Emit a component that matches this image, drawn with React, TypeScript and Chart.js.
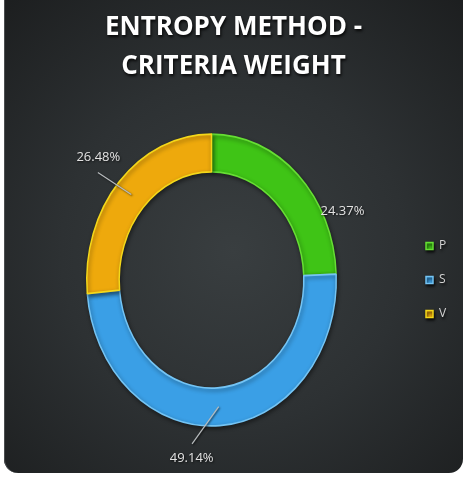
import React, { useEffect, useRef } from 'react';
import { Chart, registerables } from 'chart.js';

Chart.register(...registerables);

// ---- data ----
const categories = ['P', 'S', 'V'];
const weights = [24.37, 49.14, 26.48];
const valueLabels = ['24.37%', '49.14%', '26.48%'];
const titleLines = ['ENTROPY METHOD -', 'CRITERIA WEIGHT'];

// ---- styling ----
const COLORS = ['#3fc416', '#3a9fe6', '#eea90c'];
const RIMS = ['#66de34', '#74c4f4', '#f4d81a'];
const Y_STRETCH = 1.17;
const LABEL_PLACE = [
  { labelDeg: 22, labelR: 1.15, line: false, lineDeg: 0, lineR: 0 },
  { labelDeg: 11.2, labelR: 1.235, line: true, lineDeg: 11.7, lineR: 1.133 },
  { labelDeg: 0.4, labelR: 1.235, line: true, lineDeg: -3.4, lineR: 1.171 },
];

const stylePlugin = {
  id: 'stylePlugin',
  beforeDraw(chart: any) {
    const ctx = chart.ctx;
    ctx.save();
    ctx.shadowColor = 'rgba(0,0,0,0.85)';
    ctx.shadowBlur = 3;
    ctx.shadowOffsetX = 1;
    ctx.shadowOffsetY = 2;
  },
  beforeDatasetsDraw(chart: any) {
    const ctx = chart.ctx;
    ctx.restore();
    const arc = chart.getDatasetMeta(0).data[0];
    if (!arc) return;
    const { x, y } = arc;
    ctx.save();
    ctx.translate(x, y);
    ctx.scale(1, Y_STRETCH);
    ctx.translate(-x, -y);
    ctx.shadowColor = 'rgba(0,0,0,0.45)';
    ctx.shadowBlur = 4;
    ctx.shadowOffsetX = 1;
    ctx.shadowOffsetY = 2;
  },
  afterDatasetsDraw(chart: any) {
    const ctx = chart.ctx;
    ctx.restore();
    const meta = chart.getDatasetMeta(0);
    ctx.save();
    meta.data.forEach((el: any, i: number) => {
      const { x, y, startAngle, endAngle, innerRadius, outerRadius } = el.getProps(
        ['x', 'y', 'startAngle', 'endAngle', 'innerRadius', 'outerRadius'],
        true
      );
      const mid = (startAngle + endAngle) / 2;
      const p = LABEL_PLACE[i];
      const pt = (ang: number, r: number) => ({
        x: x + Math.cos(ang) * r,
        y: y + Math.sin(ang) * r * Y_STRETCH,
      });
      if (p.line) {
        const a = pt(mid, (innerRadius + outerRadius) / 2);
        const b = pt(mid + (p.lineDeg * Math.PI) / 180, outerRadius * p.lineR);
        ctx.strokeStyle = '#b8bcbe';
        ctx.lineWidth = 1.2;
        ctx.beginPath();
        ctx.moveTo(a.x, a.y);
        ctx.lineTo(b.x, b.y);
        ctx.stroke();
      }
      const l = pt(mid + (p.labelDeg * Math.PI) / 180, outerRadius * p.labelR);
      ctx.font = '13px "Open Sans"';
      ctx.fillStyle = '#e2e2e2';
      ctx.textAlign = 'center';
      ctx.textBaseline = 'middle';
      ctx.shadowColor = 'rgba(0,0,0,0.7)';
      ctx.shadowBlur = 2;
      ctx.shadowOffsetX = 1;
      ctx.shadowOffsetY = 1;
      ctx.fillText(valueLabels[i], l.x, l.y);
    });
    ctx.restore();
  },
};

export default function App() {
  const ref = useRef<HTMLCanvasElement | null>(null);

  useEffect(() => {
    if (!ref.current) return;
    const chart = new Chart(ref.current, {
      type: 'doughnut',
      data: {
        labels: categories,
        datasets: [
          {
            data: weights,
            backgroundColor: COLORS,
            borderColor: RIMS,
            borderWidth: 1.5,
          },
        ],
      },
      options: {
        responsive: false,
        animation: false,
        cutout: '74%',
        layout: { padding: { left: 15, right: 15, top: 0, bottom: 67.5 } },
        plugins: {
          title: {
            display: true,
            text: titleLines,
            color: '#ffffff',
            font: { family: '"Open Sans"', size: 26, weight: 'bold', lineHeight: 1.5 },
            padding: { top: 8.5, bottom: 68 },
          },
          legend: {
            display: true,
            position: 'right',
            fullSize: false,
            maxWidth: 44,
            labels: {
              boxWidth: 7,
              boxHeight: 7,
              padding: 22,
              color: '#d4d4d4',
              font: { family: '"Open Sans"', size: 12 },
            },
          },
          tooltip: { enabled: false },
        },
      },
      plugins: [stylePlugin],
    });
    return () => chart.destroy();
  }, []);

  return (
    <div style={{ position: 'fixed', left: 0, top: 0, width: 474, height: 495, background: '#ffffff', overflow: 'hidden' }}>
      <div
        style={{
          position: 'absolute',
          left: 4,
          top: -20,
          width: 459,
          height: 493,
          borderRadius: 14,
          background: 'radial-gradient(ellipse 75% 70% at 50% 55%, #393e40 0%, #2d3133 50%, #1c1e1f 100%)',
          boxShadow: 'inset 1px 0 0 #4a4d4f',
        }}
      />
      <canvas ref={ref} width={459} height={473} style={{ position: 'absolute', left: 4, top: 0 }} />
    </div>
  );
}
